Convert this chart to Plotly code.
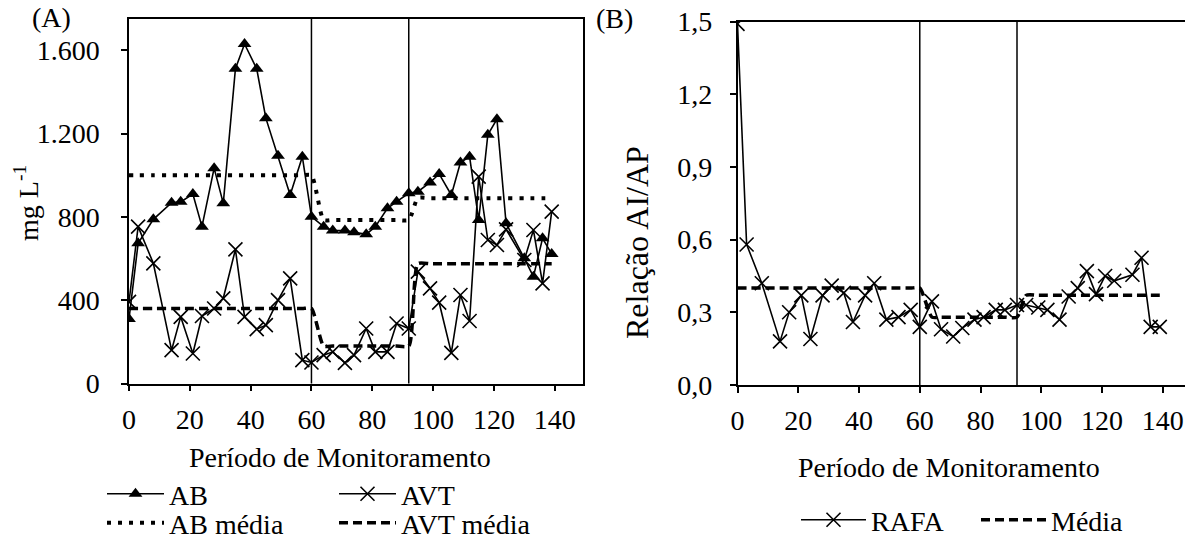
import plotly.graph_objects as go

# ---------------- data ----------------
dias = [0, 3, 8, 14, 17, 21, 24, 28, 31, 35, 38, 42, 45, 49, 53, 57, 60, 64, 67, 71,
        74, 78, 81, 85, 88, 92, 95, 99, 102, 106, 109, 112, 115, 118, 121, 124, 130, 133, 136, 139]

ab = [310, 673, 788, 868, 872, 910, 753, 1034, 865, 1511, 1630, 1511, 1274, 1094, 905, 1089, 801, 753, 734, 734,
      726, 716, 753, 841, 873, 913, 921, 965, 1006, 905, 1061, 1089, 785, 1194, 1269, 769, 601, 513, 697, 622]

avt = [392, 753, 577, 160, 320, 144, 324, 360, 409, 644, 320, 261, 280, 400, 505, 112, 101, 136, 152, 99,
       136, 264, 152, 152, 288, 264, 537, 457, 388, 147, 425, 300, 993, 689, 665, 740, 593, 737, 481, 825]

ab_media = [1000, 1000, 1000, 1000, 1000, 1000, 1000, 1000, 1000, 1000, 1000, 1000, 1000, 1000, 1000, 1000, 1000,
            785, 785, 785, 785, 785, 785, 785, 785, 785,
            890, 890, 890, 890, 890, 890, 890, 890, 890, 890, 890, 890, 890, 890]

avt_media = [360, 360, 360, 360, 360, 360, 360, 360, 360, 360, 360, 360, 360, 360, 360, 360, 360,
             180, 180, 180, 180, 180, 180, 180, 180, 180,
             575, 575, 575, 575, 575, 575, 575, 575, 575, 575, 575, 575, 575, 575]

rafa = [1.49, 0.58, 0.42, 0.18, 0.30, 0.37, 0.19, 0.37, 0.41, 0.38, 0.26, 0.37, 0.42, 0.27, 0.28, 0.31, 0.24, 0.345, 0.23, 0.20,
        0.235, 0.27, 0.28, 0.31, 0.31, 0.33, 0.33, 0.32, 0.31, 0.27, 0.365, 0.40, 0.47, 0.375, 0.45, 0.43, 0.455, 0.525, 0.24, 0.24]

rafa_media = [0.40, 0.40, 0.40, 0.40, 0.40, 0.40, 0.40, 0.40, 0.40, 0.40, 0.40, 0.40, 0.40, 0.40, 0.40, 0.40, 0.40,
              0.28, 0.28, 0.28, 0.28, 0.28, 0.28, 0.28, 0.28, 0.28,
              0.37, 0.37, 0.37, 0.37, 0.37, 0.37, 0.37, 0.37, 0.37, 0.37, 0.37, 0.37, 0.37, 0.37]

fases = [60, 92]  # limites das fases (linhas verticais)

x_ticks = [0, 20, 40, 60, 80, 100, 120, 140]
yA_ticks = [0, 400, 800, 1200, 1600]
yA_text = ["0", "400", "800", "1.200", "1.600"]
yB_ticks = [0, 0.3, 0.6, 0.9, 1.2, 1.5]
yB_text = ["0,0", "0,3", "0,6", "0,9", "1,2", "1,5"]

# ---------------- style ----------------
W, H = 1185, 538
FONT = "Liberation Serif, Times New Roman, Times, serif"
FS = 28
BLACK = "black"


def px_x(p):
    return p / W


def px_y(p):
    return 1 - p / H


fig = go.Figure()

# Panel A
fig.add_trace(go.Scatter(x=dias, y=ab_media, name="AB média", mode="lines",
                         line=dict(color=BLACK, width=4, dash="4px,7px", shape="spline", smoothing=0.6),
                         xaxis="x", yaxis="y", legend="legend3"))
fig.add_trace(go.Scatter(x=dias, y=avt_media, name="AVT média", mode="lines",
                         line=dict(color=BLACK, width=3.5, dash="9px,5px", shape="spline", smoothing=0.6),
                         xaxis="x", yaxis="y", legend="legend3"))
fig.add_trace(go.Scatter(x=dias, y=ab, name="AB", mode="lines+markers",
                         line=dict(color=BLACK, width=1.6),
                         marker=dict(symbol="triangle-up", size=12, color=BLACK),
                         xaxis="x", yaxis="y", legend="legend"))
fig.add_trace(go.Scatter(x=dias, y=avt, name="AVT", mode="lines+markers",
                         line=dict(color=BLACK, width=1.6),
                         marker=dict(symbol="x-thin", size=14, color=BLACK, line=dict(color=BLACK, width=1.6)),
                         xaxis="x", yaxis="y", legend="legend"))

# Panel B
fig.add_trace(go.Scatter(x=dias, y=rafa_media, name="Média", mode="lines",
                         line=dict(color=BLACK, width=3.5, dash="9px,5px", shape="spline", smoothing=0.6),
                         xaxis="x2", yaxis="y2", legend="legend2"))
fig.add_trace(go.Scatter(x=dias, y=rafa, name="RAFA", mode="lines+markers",
                         line=dict(color=BLACK, width=1.6),
                         marker=dict(symbol="x-thin", size=14, color=BLACK, line=dict(color=BLACK, width=1.6)),
                         xaxis="x2", yaxis="y2", legend="legend2"))

# phase lines
for f in fases:
    for xr, yr in (("x", "y domain"), ("x2", "y2 domain")):
        fig.add_shape(type="line", xref=xr, yref=yr, x0=f, x1=f, y0=0, y1=1,
                      line=dict(color=BLACK, width=1.5), layer="above")

tick_font = dict(family=FONT, size=FS, color=BLACK)
axis_common = dict(showgrid=False, zeroline=False, showline=True, linecolor=BLACK, linewidth=1.5,
                   mirror=True, ticks="outside", ticklen=6, tickwidth=1.5, tickcolor=BLACK,
                   tickfont=tick_font)

big_font = dict(family=FONT, size=FS, color=BLACK)

fig.update_layout(
    width=W, height=H,
    margin=dict(l=0, r=0, t=0, b=0, autoexpand=False),
    paper_bgcolor="white", plot_bgcolor="white",
    font=dict(family=FONT, size=FS, color=BLACK),
    xaxis=dict(domain=[px_x(129), px_x(583)], range=[0, 149.3], tickvals=x_ticks, anchor="y",
               ticklabelstandoff=4, **axis_common),
    yaxis=dict(domain=[px_y(383.5), px_y(19)], range=[0, 1750], tickvals=yA_ticks, ticktext=yA_text,
               anchor="x", ticklabelstandoff=16, **axis_common),
    xaxis2=dict(domain=[px_x(737.5), 1.0], range=[0, 147.3], tickvals=x_ticks, anchor="y2",
                ticklabelstandoff=4, **axis_common),
    yaxis2=dict(domain=[px_y(385), px_y(21.5)], range=[0, 1.5], tickvals=yB_ticks, ticktext=yB_text,
                anchor="x2", ticklabelstandoff=12, **axis_common),
    legend=dict(orientation="h", x=px_x(102), xanchor="left", y=px_y(494), yanchor="middle",
                entrywidth=160, itemwidth=57, font=big_font,
                bgcolor="rgba(0,0,0,0)", traceorder="normal"),
    legend3=dict(orientation="h", x=px_x(102), xanchor="left", y=px_y(523), yanchor="middle",
                 entrywidth=160, itemwidth=57, font=big_font,
                 bgcolor="rgba(0,0,0,0)", traceorder="normal"),
    legend2=dict(orientation="h", x=px_x(796), xanchor="left", y=px_y(520), yanchor="middle",
                 entrywidth=100, itemwidth=65, font=big_font,
                 bgcolor="rgba(0,0,0,0)", traceorder="reversed"),
    annotations=[
        dict(text="Período de Monitoramento", x=px_x(340), y=px_y(457), xref="paper", yref="paper",
             showarrow=False, xanchor="center", yanchor="middle", font=big_font),
        dict(text="Período de Monitoramento", x=px_x(949), y=px_y(467), xref="paper", yref="paper",
             showarrow=False, xanchor="center", yanchor="middle", font=big_font),
        dict(text="mg L<sup>-1</sup>", x=px_x(27), y=px_y(203), xref="paper", yref="paper",
             showarrow=False, textangle=-90, xanchor="center", yanchor="middle", font=big_font),
        dict(text="Relação AI/AP", x=px_x(637), y=px_y(243), xref="paper", yref="paper",
             showarrow=False, textangle=-90, xanchor="center", yanchor="middle",
             font=dict(family=FONT, size=32, color=BLACK)),
        dict(text="(A)", x=px_x(30), y=px_y(17), xref="paper", yref="paper",
             showarrow=False, xanchor="left", yanchor="middle", font=big_font),
        dict(text="(B)", x=px_x(594), y=px_y(19), xref="paper", yref="paper",
             showarrow=False, xanchor="left", yanchor="middle", font=big_font),
    ],
)

fig.write_html("out.html")
